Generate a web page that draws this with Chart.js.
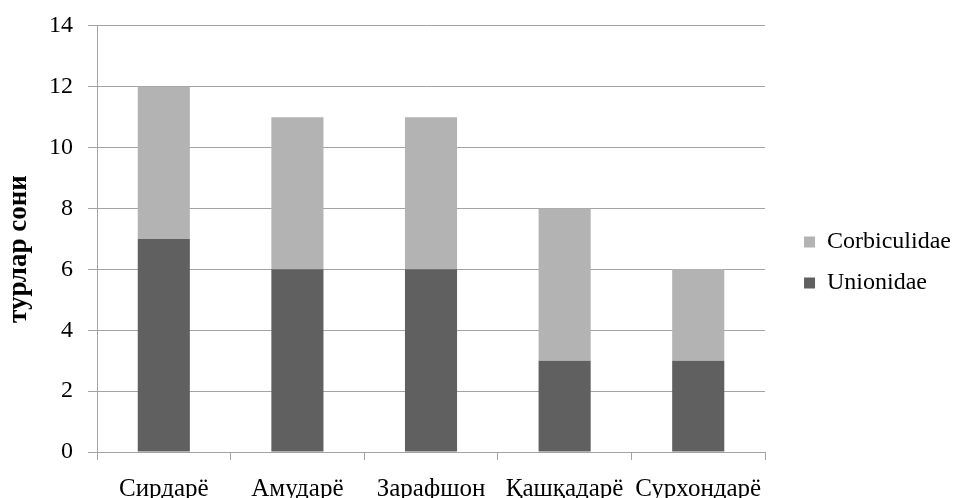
<!DOCTYPE html>
<html>
<head>
<meta charset="utf-8">
<script src="https://cdn.jsdelivr.net/npm/chart.js@4"></script>
<style>
html,body{margin:0;padding:0;background:#fff;}
#wrap{width:956px;height:498px;}
</style>
</head>
<body>
<div id="wrap"><canvas id="c" width="956" height="498"></canvas></div>
<script>
const categories = ['Сирдарё', 'Амударё', 'Зарафшон', 'Қашқадарё', 'Сурхондарё'];
const unionidae = [7, 6, 6, 3, 3];
const corbiculidae = [5, 5, 5, 5, 3];
const yTicks = [0, 2, 4, 6, 8, 10, 12, 14];
const yTitle = 'турлар сони   ';

const FONT = "'Liberation Serif', 'Times New Roman', serif";
const GRID = '#a3a3a3';

new Chart(document.getElementById('c'), {
  type: 'bar',
  data: {
    labels: categories,
    datasets: [
      { label: 'Unionidae', data: unionidae, backgroundColor: '#606060', borderWidth: 0 },
      { label: 'Corbiculidae', data: corbiculidae, backgroundColor: '#b3b3b3', borderWidth: 0 }
    ]
  },
  options: {
    responsive: false,
    animation: false,
    devicePixelRatio: 1,
    layout: { padding: { top: 16, bottom: 0, left: 0, right: -5 } },
    datasets: { bar: { categoryPercentage: 1, barPercentage: 0.39 } },
    scales: {
      x: {
        stacked: true,
        offset: true,
        grid: { drawOnChartArea: false, drawTicks: true, tickLength: 8, color: GRID, offset: true },
        border: { display: true, color: GRID, width: 1 },
        ticks: { color: '#000', font: { family: FONT, size: 25 }, padding: 14, maxRotation: 0, autoSkip: false },
        afterFit: s => { s.height = 46; }
      },
      y: {
        stacked: true,
        min: 0, max: 14,
        afterBuildTicks: s => { s.ticks = yTicks.map(v => ({ value: v })); },
        grid: { color: GRID, tickLength: 9, lineWidth: 1 },
        border: { display: true, color: GRID, width: 1 },
        ticks: { color: '#000', font: { family: FONT, size: 24, lineHeight: 0.9 }, padding: 15 },
        title: { display: true, text: yTitle, color: '#000', font: { family: FONT, size: 27, weight: 'bold', lineHeight: 1 }, padding: { top: 6, bottom: 0 } },
        afterFit: s => { s.width = 97; }
      },
      gap: {
        position: 'right',
        display: true,
        grid: { display: false },
        ticks: { display: false },
        border: { display: false },
        afterFit: s => { s.width = 22; }
      }
    },
    plugins: {
      legend: {
        position: 'right',
        reverse: true,
        maxWidth: 400,
        title: { display: true, text: ' ', font: { size: 5, lineHeight: 1 }, padding: 3 },
        labels: { color: '#000', font: { family: FONT, size: 24 }, boxWidth: 11, boxHeight: 11, padding: 17 }
      },
      tooltip: { enabled: false }
    }
  }
});
</script>
</body>
</html>
